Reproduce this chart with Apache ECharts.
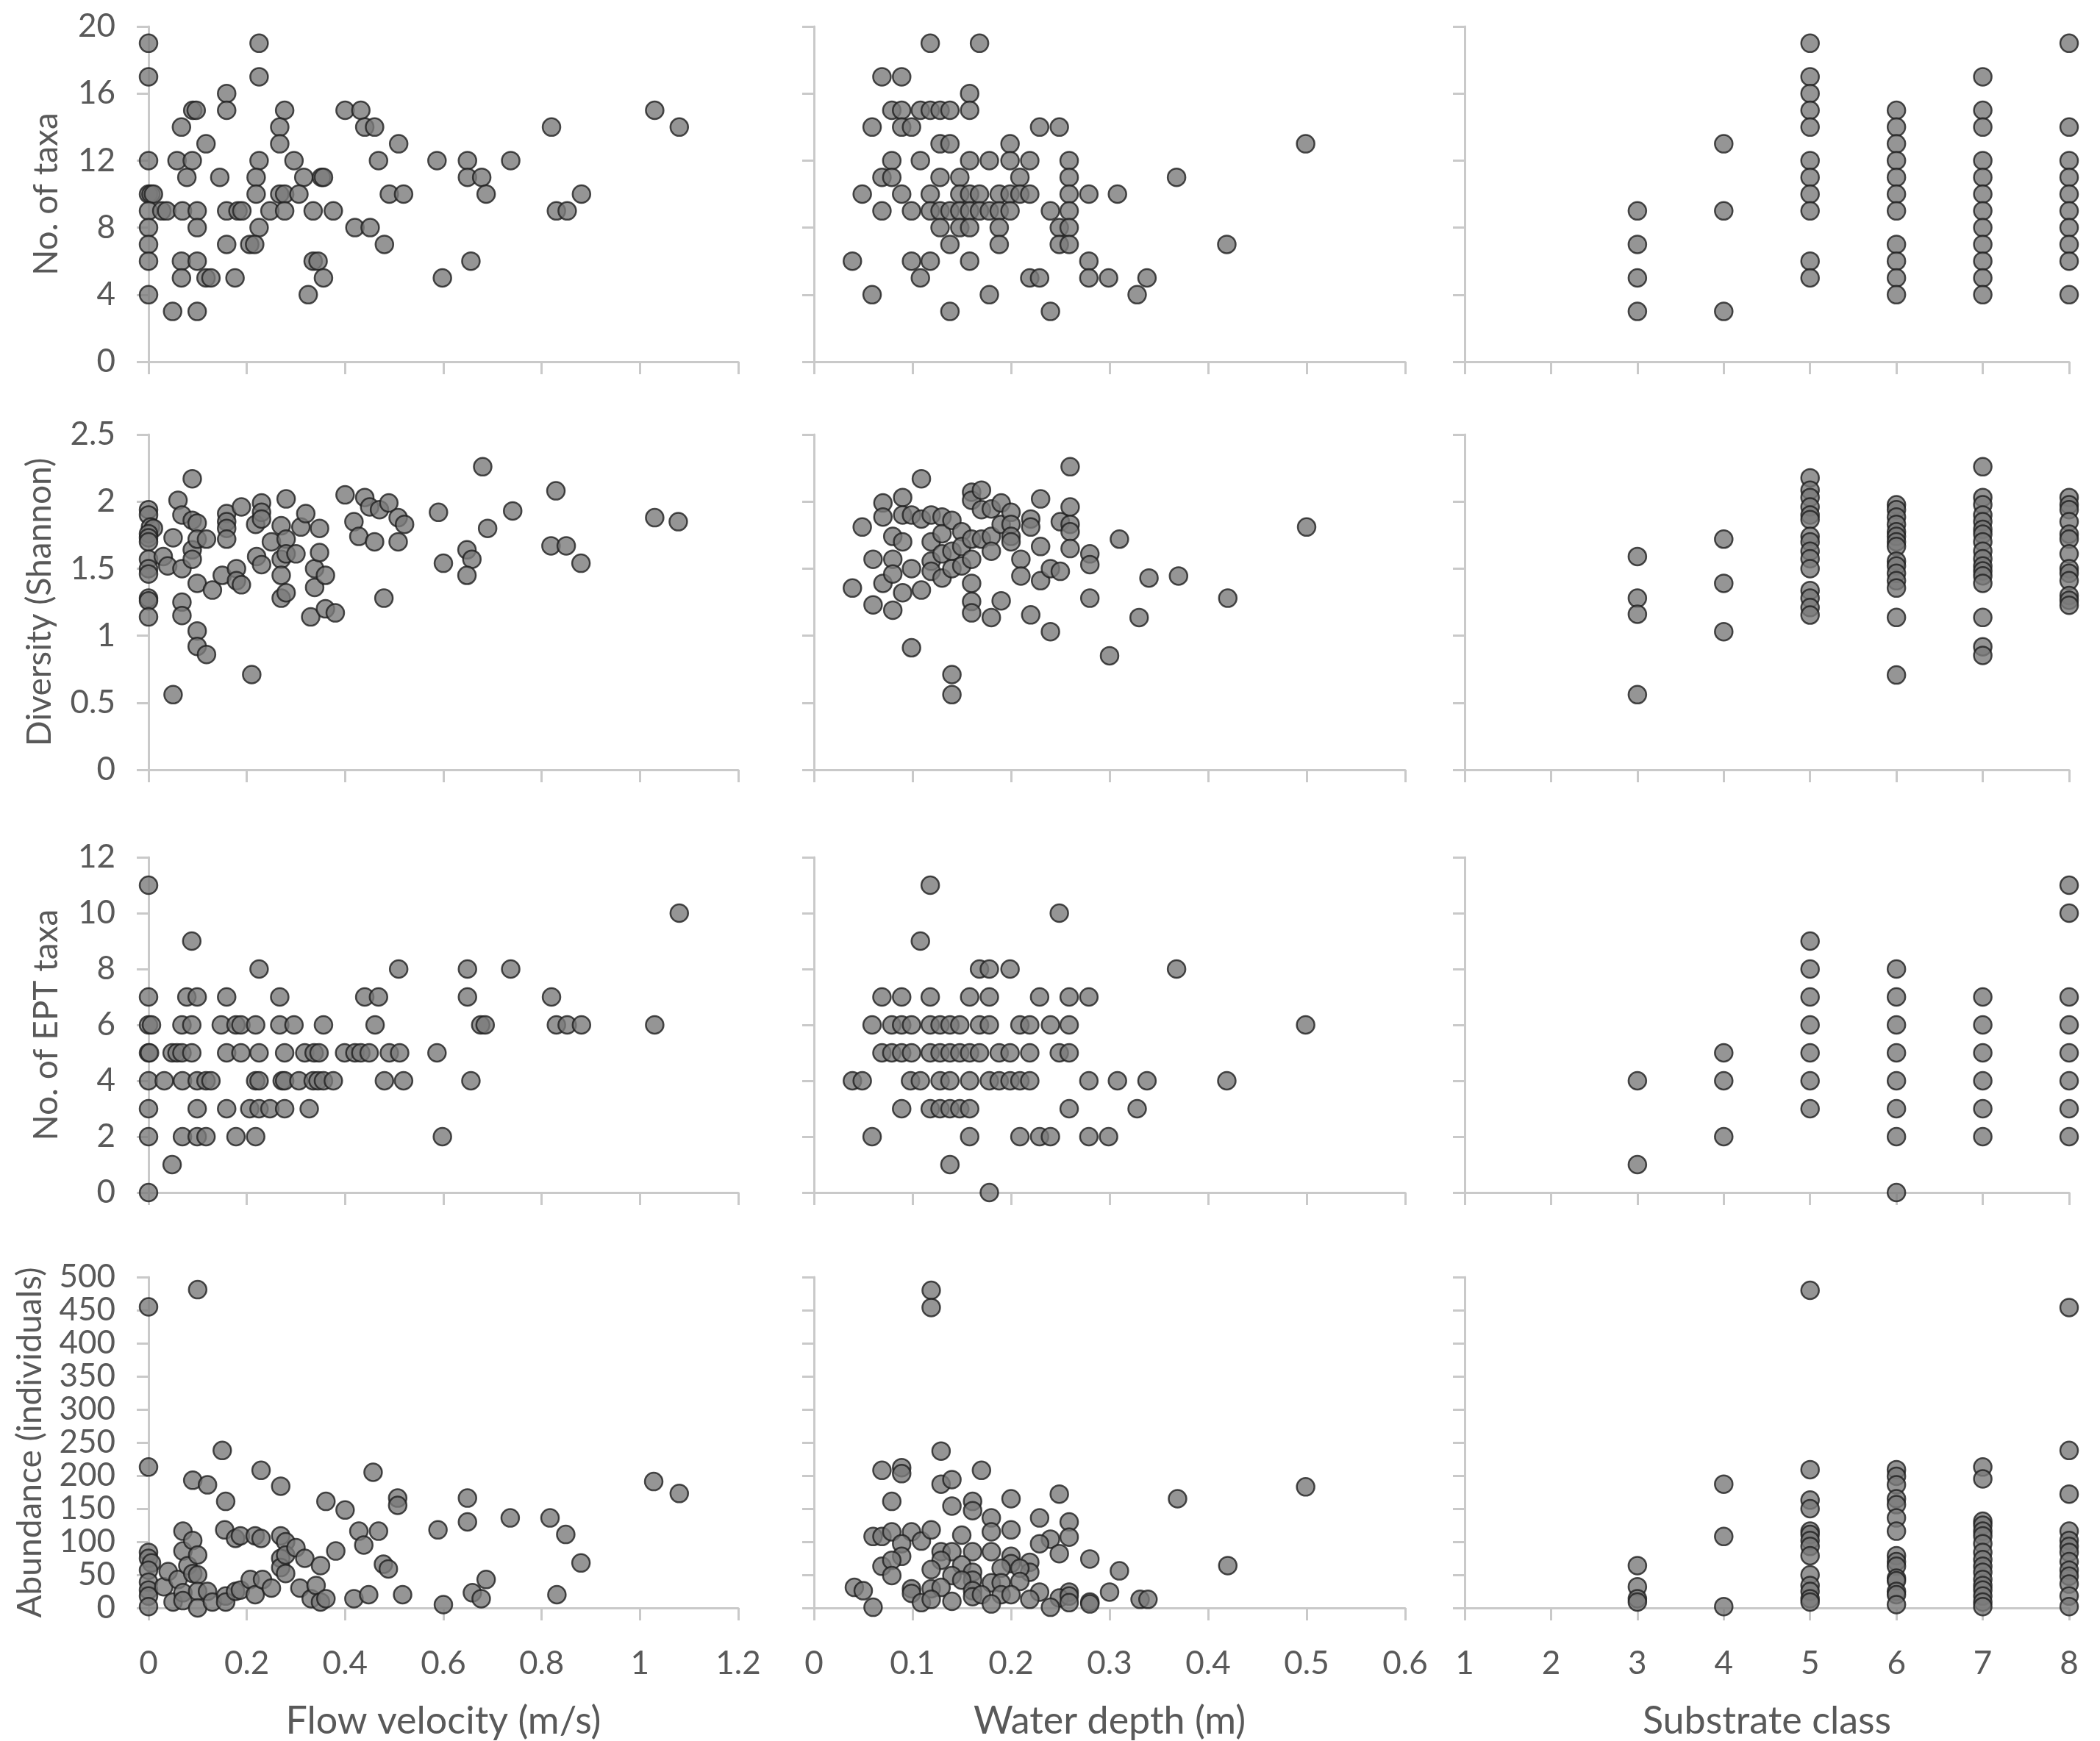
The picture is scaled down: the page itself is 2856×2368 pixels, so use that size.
<!DOCTYPE html>
<html>
<head>
<meta charset="utf-8">
<script src="https://cdn.jsdelivr.net/npm/echarts@6/dist/echarts.min.js"></script>
<style>
html,body{margin:0;padding:0;background:#fff;}
#chart{width:2856px;height:2368px;}
</style>
</head>
<body>
<div id="chart"></div>
<script>
// ---------- DATA ----------
const xTitles = ['Flow velocity (m/s)', 'Water depth (m)', 'Substrate class'];
const yTitles = ['No. of taxa', 'Diversity (Shannon)', 'No. of EPT taxa', 'Abundance (individuals)'];
const xRanges = [[0, 1.2, 0.2], [0, 0.6, 0.1], [1, 8, 1]];
const yRanges = [[0, 20, 4], [0, 2.5, 0.5], [0, 12, 2], [0, 500, 50]];

const taxaVelocity = [[0,19],[0.225,19],[0,17],[0.225,17],[0.159,16],
[0.09,15],[0.097,15],[0.159,15],[0.277,15],[0.40,15],[0.432,15],[1.03,15],
[0.067,14],[0.267,14],[0.44,14],[0.46,14],[0.82,14],[1.08,14],
[0.117,13],[0.267,13],[0.509,13],
[0,12],[0.058,12],[0.089,12],[0.225,12],[0.296,12],[0.468,12],[0.587,12],[0.649,12],[0.737,12],
[0.078,11],[0.145,11],[0.219,11],[0.316,11],[0.352,11],[0.356,11],[0.649,11],[0.678,11],
[0,10],[0.005,10],[0.01,10],[0.219,10],[0.267,10],[0.277,10],[0.306,10],[0.49,10],[0.519,10],[0.687,10],[0.881,10],
[0,9],[0.027,9],[0.037,9],[0.069,9],[0.099,9],[0.159,9],[0.182,9],[0.19,9],[0.247,9],[0.277,9],[0.335,9],[0.376,9],[0.83,9],[0.852,9],
[0,8],[0.099,8],[0.225,8],[0.42,8],[0.451,8],
[0,7],[0.159,7],[0.206,7],[0.216,7],[0.48,7],
[0,6],[0.067,6],[0.099,6],[0.335,6],[0.345,6],[0.656,6],
[0.067,5],[0.117,5],[0.127,5],[0.176,5],[0.356,5],[0.598,5],
[0,4],[0.325,4],[0.049,3],[0.099,3]];

const taxaDepth = [[0.118,19],[0.168,19],[0.069,17],[0.089,17],[0.158,16],
[0.079,15],[0.089,15],[0.108,15],[0.118,15],[0.128,15],[0.138,15],[0.158,15],
[0.059,14],[0.089,14],[0.099,14],[0.229,14],[0.249,14],
[0.128,13],[0.138,13],[0.199,13],[0.499,13],
[0.079,12],[0.108,12],[0.158,12],[0.178,12],[0.199,12],[0.219,12],[0.259,12],
[0.069,11],[0.079,11],[0.128,11],[0.148,11],[0.209,11],[0.259,11],[0.368,11],
[0.049,10],[0.089,10],[0.118,10],[0.148,10],[0.158,10],[0.168,10],[0.188,10],[0.199,10],[0.209,10],[0.219,10],[0.259,10],[0.279,10],[0.308,10],
[0.069,9],[0.099,9],[0.118,9],[0.128,9],[0.138,9],[0.148,9],[0.158,9],[0.168,9],[0.178,9],[0.188,9],[0.199,9],[0.24,9],[0.259,9],
[0.128,8],[0.148,8],[0.158,8],[0.188,8],[0.249,8],[0.259,8],
[0.138,7],[0.188,7],[0.249,7],[0.259,7],[0.419,7],
[0.039,6],[0.099,6],[0.118,6],[0.158,6],[0.279,6],
[0.108,5],[0.219,5],[0.229,5],[0.279,5],[0.299,5],[0.338,5],
[0.059,4],[0.178,4],[0.328,4],[0.138,3],[0.24,3]];

const taxaSubstrate = [[3,9],[3,7],[3,5],[3,3],[4,13],[4,9],[4,3],
[5,19],[5,17],[5,16],[5,15],[5,14],[5,12],[5,11],[5,10],[5,9],[5,6],[5,5],
[6,15],[6,14],[6,13],[6,12],[6,11],[6,10],[6,9],[6,7],[6,6],[6,5],[6,4],
[7,17],[7,15],[7,14],[7,12],[7,11],[7,10],[7,9],[7,8],[7,7],[7,6],[7,5],[7,4],
[8,19],[8,14],[8,12],[8,11],[8,10],[8,9],[8,8],[8,7],[8,6],[8,4]];

const divVelocity = [[0,1.94],[0,1.90],[0.004,1.81],[0.01,1.80],[0,1.76],[0,1.73],[0,1.70],[0,1.57],[0,1.50],[0,1.46],
[0,1.28],[0,1.26],[0,1.14],[0.03,1.59],[0.039,1.52],[0.05,1.73],[0.05,0.56],[0.06,2.01],[0.068,1.90],[0.068,1.50],
[0.068,1.25],[0.068,1.15],[0.089,2.17],[0.089,1.86],[0.099,1.84],[0.089,1.64],[0.089,1.57],[0.099,1.72],[0.099,1.39],[0.099,1.035],
[0.099,0.92],[0.118,0.86],[0.118,1.72],[0.13,1.34],[0.15,1.45],[0.159,1.91],[0.159,1.85],[0.159,1.80],[0.159,1.72],[0.179,1.50],
[0.179,1.41],[0.189,1.38],[0.189,1.96],[0.21,0.71],[0.218,1.83],[0.22,1.59],[0.23,1.99],[0.23,1.92],[0.23,1.87],[0.23,1.53],
[0.25,1.70],[0.27,1.82],[0.27,1.57],[0.27,1.45],[0.27,1.28],[0.28,2.02],[0.28,1.72],[0.28,1.61],[0.28,1.32],[0.30,1.61],
[0.31,1.81],[0.32,1.91],[0.33,1.14],[0.338,1.50],[0.338,1.36],[0.348,1.80],[0.348,1.62],[0.36,1.45],[0.36,1.20],[0.38,1.17],
[0.40,2.05],[0.418,1.85],[0.428,1.74],[0.44,2.03],[0.45,1.96],[0.46,1.70],[0.47,1.94],[0.479,1.28],[0.489,1.99],[0.508,1.88],
[0.508,1.70],[0.521,1.83],[0.59,1.92],[0.60,1.54],[0.648,1.64],[0.658,1.57],[0.648,1.45],[0.68,2.26],[0.69,1.80],[0.741,1.93],
[0.829,2.08],[0.819,1.67],[0.85,1.67],[0.88,1.54],[1.03,1.88],[1.078,1.85]];

const divDepth = [[0.039,1.355],[0.049,1.81],[0.06,1.57],[0.06,1.23],[0.07,1.99],[0.07,1.885],[0.07,1.39],[0.08,1.74],[0.08,1.57],[0.08,1.46],
[0.08,1.19],[0.09,2.03],[0.09,1.90],[0.09,1.70],[0.09,1.32],[0.099,1.90],[0.099,1.50],[0.099,0.91],[0.109,2.17],[0.109,1.87],
[0.109,1.34],[0.119,1.90],[0.119,1.70],[0.119,1.555],[0.119,1.48],[0.13,1.885],[0.13,1.76],[0.13,1.61],[0.13,1.43],[0.14,1.86],
[0.14,1.63],[0.14,1.50],[0.14,0.71],[0.14,0.56],[0.15,1.775],[0.15,1.665],[0.15,1.52],[0.16,2.07],[0.16,2.01],[0.16,1.72],
[0.16,1.57],[0.16,1.39],[0.16,1.255],[0.16,1.17],[0.17,2.085],[0.17,1.94],[0.17,1.72],[0.18,1.945],[0.18,1.74],[0.18,1.63],
[0.18,1.135],[0.19,1.99],[0.19,1.83],[0.19,1.26],[0.20,1.92],[0.20,1.83],[0.20,1.74],[0.20,1.70],[0.21,1.57],[0.21,1.445],
[0.22,1.87],[0.22,1.81],[0.22,1.155],[0.23,2.02],[0.23,1.665],[0.23,1.41],[0.24,1.50],[0.24,1.03],[0.25,1.85],[0.25,1.48],
[0.26,2.26],[0.26,1.96],[0.26,1.83],[0.26,1.775],[0.26,1.65],[0.28,1.61],[0.28,1.53],[0.28,1.28],[0.30,0.85],[0.31,1.72],
[0.33,1.135],[0.34,1.43],[0.37,1.445],[0.42,1.28],[0.50,1.81]];

const divSubstrate = [[3,1.59],[3,1.28],[3,1.16],[3,0.56],[4,1.72],[4,1.39],[4,1.03],
[5,2.177],[5,2.085],[5,2.03],[5,1.96],[5,1.90],[5,1.866],[5,1.74],[5,1.70],[5,1.63],[5,1.574],[5,1.50],[5,1.337],[5,1.28],[5,1.21],[5,1.154],
[6,1.976],[6,1.94],[6,1.885],[6,1.83],[6,1.775],[6,1.74],[6,1.70],[6,1.665],[6,1.556],[6,1.52],[6,1.465],[6,1.41],[6,1.355],[6,1.136],[6,0.707],
[7,2.26],[7,2.03],[7,1.976],[7,1.90],[7,1.85],[7,1.793],[7,1.757],[7,1.70],[7,1.63],[7,1.574],[7,1.52],[7,1.483],[7,1.446],[7,1.39],[7,1.136],[7,0.917],[7,0.853],
[8,2.03],[8,1.976],[8,1.94],[8,1.85],[8,1.757],[8,1.72],[8,1.61],[8,1.50],[8,1.465],[8,1.41],[8,1.30],[8,1.264],[8,1.227]];

const eptVelocity = [[0,11],[1.08,10],[0.088,9],
[0.225,8],[0.509,8],[0.649,8],[0.737,8],
[0,7],[0.078,7],[0.099,7],[0.159,7],[0.267,7],[0.44,7],[0.468,7],[0.649,7],[0.82,7],
[0,6],[0.006,6],[0.068,6],[0.088,6],[0.148,6],[0.178,6],[0.188,6],[0.218,6],[0.267,6],[0.296,6],[0.356,6],[0.461,6],[0.676,6],[0.685,6],[0.83,6],[0.852,6],[0.881,6],[1.03,6],
[0,5],[0.002,5],[0.048,5],[0.058,5],[0.068,5],[0.088,5],[0.159,5],[0.188,5],[0.225,5],[0.277,5],[0.318,5],[0.337,5],[0.347,5],[0.399,5],[0.42,5],[0.432,5],[0.449,5],[0.49,5],[0.511,5],[0.587,5],
[0,4],[0.032,4],[0.069,4],[0.099,4],[0.117,4],[0.127,4],[0.218,4],[0.225,4],[0.272,4],[0.277,4],[0.306,4],[0.335,4],[0.345,4],[0.356,4],[0.376,4],[0.48,4],[0.519,4],[0.656,4],
[0,3],[0.099,3],[0.159,3],[0.206,3],[0.225,3],[0.247,3],[0.277,3],[0.327,3],
[0,2],[0.069,2],[0.099,2],[0.117,2],[0.178,2],[0.218,2],[0.598,2],
[0.048,1],[0,0]];

const eptDepth = [[0.118,11],[0.249,10],[0.108,9],
[0.168,8],[0.178,8],[0.199,8],[0.368,8],
[0.069,7],[0.089,7],[0.118,7],[0.158,7],[0.178,7],[0.229,7],[0.259,7],[0.279,7],
[0.059,6],[0.079,6],[0.089,6],[0.099,6],[0.118,6],[0.128,6],[0.138,6],[0.148,6],[0.168,6],[0.178,6],[0.209,6],[0.219,6],[0.24,6],[0.259,6],[0.499,6],
[0.069,5],[0.079,5],[0.089,5],[0.099,5],[0.118,5],[0.128,5],[0.138,5],[0.148,5],[0.158,5],[0.168,5],[0.188,5],[0.199,5],[0.219,5],[0.249,5],[0.259,5],
[0.039,4],[0.049,4],[0.098,4],[0.108,4],[0.128,4],[0.138,4],[0.158,4],[0.178,4],[0.188,4],[0.199,4],[0.209,4],[0.219,4],[0.279,4],[0.308,4],[0.338,4],[0.419,4],
[0.089,3],[0.118,3],[0.128,3],[0.138,3],[0.148,3],[0.158,3],[0.259,3],[0.328,3],
[0.059,2],[0.158,2],[0.209,2],[0.229,2],[0.24,2],[0.279,2],[0.299,2],
[0.138,1],[0.178,0]];

const eptSubstrate = [[3,4],[3,1],[4,5],[4,4],[4,2],
[5,9],[5,8],[5,7],[5,6],[5,5],[5,4],[5,3],
[6,8],[6,7],[6,6],[6,5],[6,4],[6,3],[6,2],[6,0],
[7,7],[7,6],[7,5],[7,4],[7,3],[7,2],
[8,11],[8,10],[8,7],[8,6],[8,5],[8,4],[8,3],[8,2]];

const abundVelocity = [[0,455],[0.10,481],[0,213],[0,84],[0,75],[0.006,68],[0,57],[0,39],[0,27],[0,18],
[0,2],[0.031,32],[0.04,55],[0.05,9],[0.06,43],[0.07,116],[0.07,86],[0.08,64],[0.07,23],[0.07,11],
[0.09,193],[0.09,102],[0.09,52],[0.10,80],[0.10,50],[0.10,25],[0.10,0],[0.12,186],[0.12,25],[0.13,9],
[0.15,238],[0.157,161],[0.155,118],[0.157,18],[0.157,9],[0.177,105],[0.177,25],[0.187,109],[0.187,27],[0.207,43],
[0.217,109],[0.217,20],[0.229,105],[0.229,208],[0.232,43],[0.25,30],[0.269,184],[0.269,109],[0.269,75],[0.269,61],
[0.279,100],[0.279,80],[0.279,52],[0.30,91],[0.308,30],[0.318,75],[0.331,14],[0.341,34],[0.35,64],[0.35,9],
[0.361,161],[0.361,14],[0.381,86],[0.40,148],[0.418,14],[0.428,116],[0.438,95],[0.448,20],[0.457,205],[0.468,116],
[0.478,66],[0.488,59],[0.507,166],[0.507,155],[0.517,20],[0.589,118],[0.60,5],[0.649,166],[0.649,130],[0.659,23],
[0.677,14],[0.687,43],[0.736,136],[0.817,136],[0.831,20],[0.849,111],[0.88,68],[1.028,191],[1.08,173]];

const abundDepth = [[0.119,480],[0.119,454],[0.129,237],[0.069,208],[0.089,212],[0.089,203],[0.17,208],[0.129,187],[0.14,194],[0.249,172],
[0.499,183],[0.079,161],[0.14,154],[0.161,161],[0.161,147],[0.20,165],[0.369,165],[0.18,136],[0.229,136],[0.259,130],
[0.06,108],[0.069,108],[0.079,115],[0.099,115],[0.109,101],[0.119,118],[0.15,110],[0.18,115],[0.20,118],[0.24,104],
[0.259,107],[0.229,97],[0.089,97],[0.129,85],[0.14,85],[0.161,85],[0.18,85],[0.249,82],[0.089,78],[0.069,63],
[0.079,72],[0.079,49],[0.129,72],[0.15,65],[0.20,78],[0.20,67],[0.219,69],[0.219,54],[0.19,60],[0.209,60],
[0.28,74],[0.119,58],[0.14,49],[0.161,54],[0.161,42],[0.15,42],[0.18,38],[0.19,38],[0.209,40],[0.31,56],
[0.42,64],[0.041,31],[0.05,26],[0.099,29],[0.099,22],[0.119,29],[0.129,31],[0.161,26],[0.161,17],[0.17,20],
[0.19,20],[0.20,20],[0.229,24],[0.259,24],[0.249,15],[0.259,18],[0.30,24],[0.06,1],[0.109,8],[0.119,13],
[0.14,10],[0.18,6],[0.219,13],[0.24,1],[0.259,8],[0.28,9],[0.28,6],[0.331,13],[0.339,13]];

const abundSubstrate = [[3,64],[3,32],[3,14],[3,9],[4,187],[4,108],[4,2],
[5,480],[5,209],[5,163],[5,150],[5,116],[5,111],[5,102],[5,93],[5,79],[5,50],[5,34],[5,25],[5,14],[5,9],
[6,209],[6,199],[6,186],[6,165],[6,156],[6,136],[6,116],[6,79],[6,70],[6,63],[6,45],[6,41],[6,25],[6,20],[6,5],
[7,213],[7,195],[7,131],[7,125],[7,116],[7,109],[7,97],[7,84],[7,73],[7,63],[7,54],[7,43],[7,34],[7,27],[7,18],[7,9],[7,2],
[8,454],[8,238],[8,172],[8,116],[8,102],[8,93],[8,84],[8,70],[8,57],[8,48],[8,36],[8,18],[8,2]];

const panels = [
  [taxaVelocity, taxaDepth, taxaSubstrate],
  [divVelocity, divDepth, divSubstrate],
  [eptVelocity, eptDepth, eptSubstrate],
  [abundVelocity, abundDepth, abundSubstrate]
];

// ---------- LAYOUT ----------
const colBox = [[202, 802], [1107, 804], [1992, 822]];
const rowBox = [[36, 456], [591, 456], [1166, 456], [1737, 457]];
const yNameGap = [116, 125, 116, 138];
const FONT = 'Lato';
const TXT = '#595959';
const AXIS = '#c9c9c9';

const grid = [], xAxis = [], yAxis = [], series = [];
let idx = 0;
for (let r = 0; r < 4; r++) {
  for (let c = 0; c < 3; c++) {
    grid.push({left: colBox[c][0], width: colBox[c][1], top: rowBox[r][0], height: rowBox[r][1], containLabel: false});
    xAxis.push({
      type: 'value', gridIndex: idx,
      min: xRanges[c][0], max: xRanges[c][1], interval: xRanges[c][2],
      axisLine: {show: true, lineStyle: {color: AXIS, width: 3}},
      axisTick: {show: true, length: 17, lineStyle: {color: AXIS, width: 3}},
      splitLine: {show: false},
      axisLabel: {show: r === 3, color: TXT, fontFamily: FONT, fontSize: 44, margin: 54},
      name: r === 3 ? xTitles[c] : '', nameLocation: 'middle', nameGap: 128,
      nameTextStyle: {color: TXT, fontFamily: FONT, fontSize: 52}
    });
    yAxis.push({
      type: 'value', gridIndex: idx,
      min: yRanges[r][0], max: yRanges[r][1], interval: yRanges[r][2],
      axisLine: {show: true, lineStyle: {color: AXIS, width: 3}},
      axisTick: {show: true, length: 16, lineStyle: {color: AXIS, width: 3}},
      splitLine: {show: false},
      axisLabel: {show: c === 0, color: TXT, fontFamily: FONT, fontSize: 44, margin: 45},
      name: c === 0 ? yTitles[r] : '', nameLocation: 'middle', nameGap: yNameGap[r],
      nameTextStyle: {color: TXT, fontFamily: FONT, fontSize: 46}
    });
    series.push({
      type: 'scatter', xAxisIndex: idx, yAxisIndex: idx,
      data: panels[r][c], symbol: 'circle', symbolSize: 24,
      itemStyle: {color: '#7b7b7b', borderColor: '#1e1e1e', borderWidth: 2.5},
      silent: true
    });
    idx++;
  }
}

const chart = echarts.init(document.getElementById('chart'), null, {renderer: 'canvas'});
chart.setOption({animation: false, backgroundColor: '#ffffff', grid, xAxis, yAxis, series});
</script>
</body>
</html>
